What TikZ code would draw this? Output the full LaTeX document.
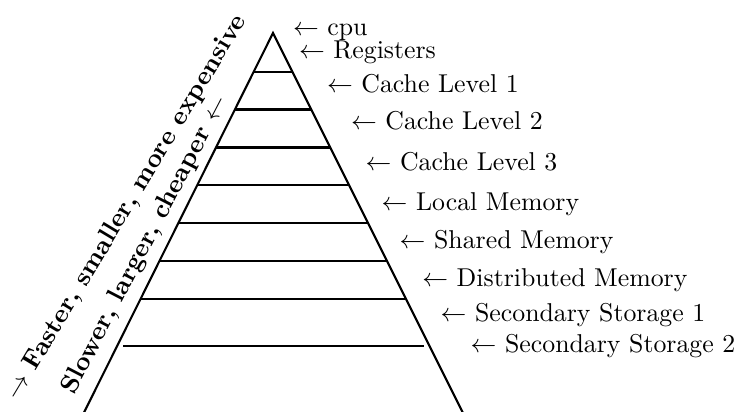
\documentclass[tikz,border=0pt]{standalone}
\begin{document}
\begin{tikzpicture}[x=0.3876pt, y=-0.3876pt,
    tier/.style={line width=0.8pt},
    lbl/.style={anchor=base west, inner sep=0pt},
    slant/.style={font=\bfseries, inner sep=0pt}]
  \useasboundingbox (0,0) rectangle (743,411);
  \clip (0,0) rectangle (743,411);

  % pyramid outline (its base lies below the visible area)
  \coordinate (apex) at (273,33);
  \coordinate (bl) at ({273-0.498*400},433);
  \coordinate (br) at ({273+0.5*400},433);
  \draw[tier, line join=miter] (bl) -- (apex) -- (br);

  % level separators
  \foreach \y in {72,109.5,147.5,185,223,261,299}
    \draw[tier] ({273-0.498*(\y-33)},\y) -- ({273+0.5*(\y-33)},\y);
  \draw[tier] ({273-0.498*(346-33)+6},346) -- ({273+0.5*(346-33)-6},346);

  % level labels
  \node[lbl] (cpu)  at (292.5,35.5)  {$\leftarrow$ cpu};
  \node[lbl] (reg)  at (298.5,58.8)  {$\leftarrow$ Registers};
  \node[lbl] (c1)   at (326.5,92.2)  {$\leftarrow$ Cache Level 1};
  \node[lbl] (c2)   at (350.5,129.8) {$\leftarrow$ Cache Level 2};
  \node[lbl] (c3)   at (365.2,170.5) {$\leftarrow$ Cache Level 3};
  \node[lbl] (lm)   at (381.2,210.5) {$\leftarrow$ Local Memory};
  \node[lbl] (sm)   at (399.2,248.8) {$\leftarrow$ Shared Memory};
  \node[lbl] (dm)   at (421.8,286.5) {$\leftarrow$ Distributed Memory};
  \node[lbl] (ss1)  at (440.2,321.5) {$\leftarrow$ Secondary Storage 1};
  \node[lbl] (ss2)  at (470.2,352.5) {$\leftarrow$ Secondary Storage 2};

  % trend annotations along the left side
  \node[slant, rotate=59, anchor=base east] (fast) at (247,20)
    {$\rightarrow$ Faster, smaller, more expensive};
  \node[slant, rotate=62.5, anchor=base east] (slow) at (228,100)
    {Slower, larger, cheaper $\leftarrow$};
\end{tikzpicture}
\end{document}
